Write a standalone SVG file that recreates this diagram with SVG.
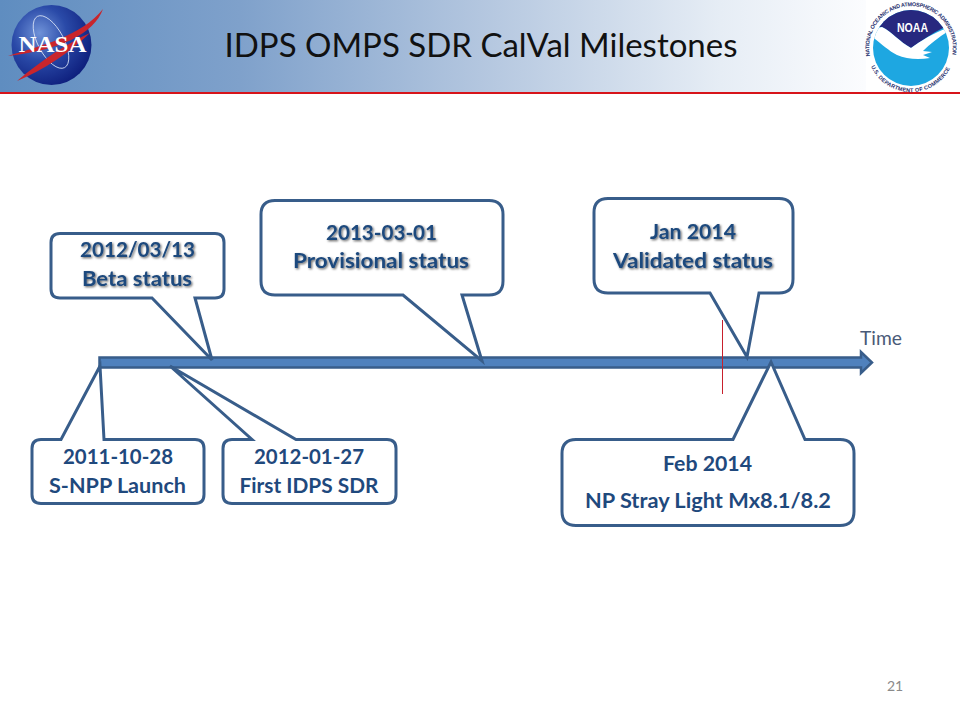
<svg xmlns="http://www.w3.org/2000/svg" xmlns:xlink="http://www.w3.org/1999/xlink" width="960" height="720" viewBox="0 0 960 720">
<style>
text{font-family:Lato,"Open Sans","Liberation Sans",sans-serif}
.call{fill:#fff;stroke:#385d8a;stroke-width:3;stroke-linejoin:miter}
.lab{fill:#1f497d;font-weight:700;font-size:21.500px;text-anchor:middle}
.sh{filter:url(#ts)}
.ring{font-family:"Liberation Sans",sans-serif;font-size:5.500px;fill:#27306e;font-weight:700}
</style>
<defs>
<linearGradient id="hdr" x1="0" x2="1" y1="0" y2="0">
<stop offset="0" stop-color="#5f8dc0"/><stop offset="0.25" stop-color="#7fa1cb"/><stop offset="0.5" stop-color="#b3c6df"/><stop offset="0.75" stop-color="#e6edf5"/><stop offset="0.9" stop-color="#fbfcfe"/><stop offset="1" stop-color="#fff"/>
</linearGradient>
<radialGradient id="globe" cx="0.35" cy="0.35" r="0.75">
<stop offset="0" stop-color="#6f92d8"/><stop offset="0.45" stop-color="#2a4aa8"/><stop offset="1" stop-color="#0b1a78"/>
</radialGradient>
<filter id="ts" x="-10%" y="-20%" width="120%" height="150%">
<feDropShadow dx="1.200" dy="1.200" stdDeviation="1.200" flood-color="#000" flood-opacity="0.6"/>
</filter>
<clipPath id="nc"><circle cx="911" cy="48" r="38"/></clipPath>
<path id="arcTop" d="M870 56A41.800 41.800 0 1 1 952 56"/>
<path id="arcBot" d="M870.600 65.600A44 44 0 0 0 951.400 65.600"/>
</defs>

<g id="header">
<rect x="0" y="0" width="960" height="92" fill="url(#hdr)"/>
<rect x="0" y="92" width="960" height="2" fill="#d7141a"/>
<text x="481" y="57" text-anchor="middle" font-size="33" fill="#111">IDPS OMPS SDR CalVal Milestones</text>
</g>

<g id="nasa-logo">
<circle cx="51.500" cy="45" r="40" fill="url(#globe)"/>
<ellipse cx="51" cy="42" rx="13" ry="29" transform="rotate(-28 51 42)" fill="none" stroke="#d8e2f5" stroke-width="0.800"/>
<path d="M8 56C40 46 82 36 103 9C94 34 60 50 8 56Z" fill="#c9252c"/>
<path d="M17 81C42 60 66 44 90 33C70 52 44 70 17 81Z" fill="#c9252c"/>
<text x="52.500" y="52" text-anchor="middle" font-size="23" font-weight="700" fill="#fff" style="font-family:'Liberation Serif',serif" textLength="68" lengthAdjust="spacingAndGlyphs">NASA</text>
</g>

<g id="noaa-logo">
<rect x="866" y="0" width="94" height="92" fill="#fff"/>
<circle cx="911" cy="48" r="38" fill="#1ea7e1"/>
<g clip-path="url(#nc)">
<path d="M870 8H952V27L943 28C933 33 922 40 911 48C900 42 892 32 882 27L870 27Z" fill="#27287f"/>
<path d="M868 30L882 27C892 32 900 42 911 48C922 40 933 33 952 26V29C940 36 930 44 923 51L932 52L923 55L930 58C918 60 906 59 897 55C887 50 880 42 868 34Z" fill="#fff"/>
</g>
<text x="912.500" y="32" text-anchor="middle" font-size="12" font-weight="700" fill="#fff" style="font-family:'Liberation Sans',sans-serif" textLength="31" lengthAdjust="spacingAndGlyphs">NOAA</text>
<text class="ring"><textPath xlink:href="#arcTop" href="#arcTop" textLength="146" lengthAdjust="spacing">NATIONAL OCEANIC AND ATMOSPHERIC ADMINISTRATION</textPath></text>
<text class="ring"><textPath xlink:href="#arcBot" href="#arcBot" startOffset="1" textLength="98" lengthAdjust="spacing">U.S. DEPARTMENT OF COMMERCE</textPath></text>
</g>

<g id="connectors">
<path id="timeline" d="M99.500 357.500H861V352L872 362.500L861 373V367.500H99.500Z" fill="#4f81bd" stroke="#385d8a" stroke-width="2.500"/>
<line x1="722.500" y1="320" x2="722.500" y2="394" stroke="#c8202c" stroke-width="1"/>
</g>

<g id="beta">
<path class="call" d="M60 233.500H215Q224 233.500 224 242.500V289Q224 298 215 298H195L212 360L152 298H60Q51 298 51 289V242.500Q51 233.500 60 233.500Z"/>
<text class="lab sh" x="137.500" y="257" textLength="115" lengthAdjust="spacingAndGlyphs">2012/03/13</text>
<text class="lab sh" x="137" y="286" textLength="110" lengthAdjust="spacingAndGlyphs">Beta status</text>
</g>

<g id="provisional">
<path class="call" d="M275 200.500H489Q503 200.500 503 214.500V281Q503 295 489 295H462L482 361L403 295H275Q261 295 261 281V214.500Q261 200.500 275 200.500Z"/>
<text class="lab sh" x="381.500" y="240" textLength="111" lengthAdjust="spacingAndGlyphs">2013-03-01</text>
<text class="lab sh" x="381" y="268" textLength="176" lengthAdjust="spacingAndGlyphs">Provisional status</text>
</g>

<g id="validated">
<path class="call" d="M608 198.500H779Q793 198.500 793 212.500V279Q793 293 779 293H759L747 357L710 293H608Q594 293 594 279V212.500Q594 198.500 608 198.500Z"/>
<text class="lab sh" x="693" y="239" textLength="86" lengthAdjust="spacingAndGlyphs">Jan 2014</text>
<text class="lab sh" x="693" y="268" textLength="160" lengthAdjust="spacingAndGlyphs">Validated status</text>
</g>

<g id="launch">
<path class="call" d="M41 439.500H61L100 366L104 439.500H195Q204 439.500 204 448.500V494.500Q204 503.500 195 503.500H41Q32 503.500 32 494.500V448.500Q32 439.500 41 439.500Z"/>
<text class="lab" x="118" y="464" textLength="110" lengthAdjust="spacingAndGlyphs">2011-10-28</text>
<text class="lab" x="117.500" y="493" textLength="137" lengthAdjust="spacingAndGlyphs">S-NPP Launch</text>
</g>

<g id="first-sdr">
<path class="call" d="M232 439.500H252L170 366L296 439.500H387Q396 439.500 396 448.500V494.500Q396 503.500 387 503.500H232Q223 503.500 223 494.500V448.500Q223 439.500 232 439.500Z"/>
<text class="lab" x="309" y="464" textLength="110" lengthAdjust="spacingAndGlyphs">2012-01-27</text>
<text class="lab" x="309" y="493" textLength="139" lengthAdjust="spacingAndGlyphs">First IDPS SDR</text>
</g>

<g id="stray-light">
<path class="call" d="M576 439.500H733L771 362L805 439.500H840Q854 439.500 854 453.500V511.500Q854 525.500 840 525.500H576Q562 525.500 562 511.500V453.500Q562 439.500 576 439.500Z"/>
<text class="lab" x="707.500" y="471" textLength="89" lengthAdjust="spacingAndGlyphs">Feb 2014</text>
<text class="lab" x="708" y="508" textLength="246" lengthAdjust="spacingAndGlyphs">NP Stray Light Mx8.1/8.2</text>
</g>

<g id="labels">
<text x="881" y="345" text-anchor="middle" font-size="18.500" fill="#4a5a78" textLength="42" lengthAdjust="spacingAndGlyphs">Time</text>
<text x="895" y="691" text-anchor="middle" font-size="14" fill="#8a8a8a">21</text>
</g>
</svg>
